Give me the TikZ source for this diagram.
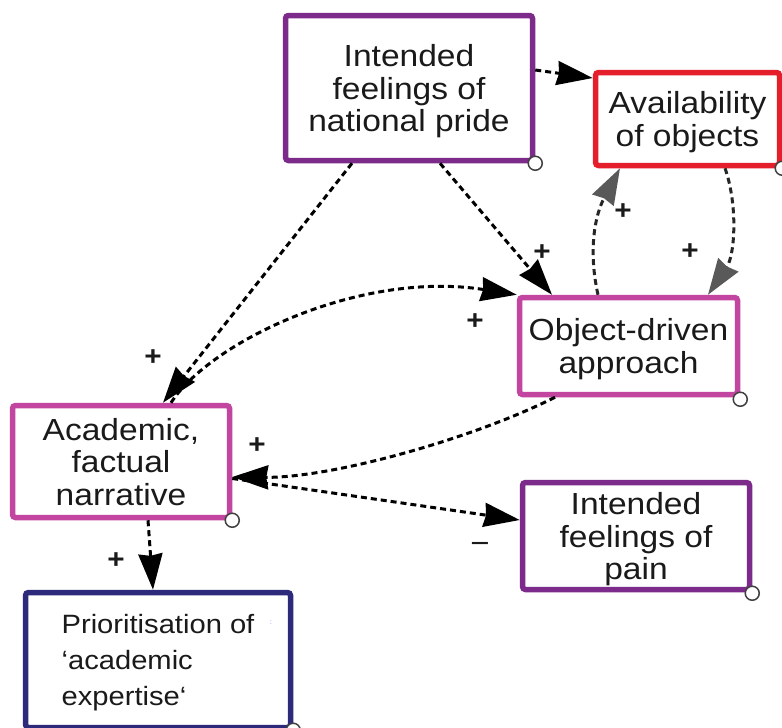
\documentclass[tikz,border=0pt]{standalone}
\usepackage{fontspec}
\setmainfont{Liberation Sans}[FakeStretch=1.1]
\usetikzlibrary{arrows.meta}
\definecolor{deeppurple}{HTML}{7D2B8B}
\definecolor{pinkpurple}{HTML}{C2459F}
\definecolor{boxred}{HTML}{E41E2B}
\definecolor{boxnavy}{HTML}{2D2A7C}
\definecolor{inktext}{HTML}{1A1A1A}
\begin{document}
\begin{tikzpicture}[x=1pt,y=-1pt,
  box/.style={draw, line width=5.5pt, rounded corners=3pt, fill=white, inner sep=0pt,
    text depth=0pt, align=center, text=inktext, font=\fontsize{30.5}{32.5}\selectfont},
  port/.style={circle, draw=black!75, fill=white, line width=1.5pt, minimum size=14pt, inner sep=0pt},
  link/.style={line width=3pt, dash pattern=on 6pt off 4pt,
    -{Stealth[length=36pt,width=24pt,inset=2pt]}},
  greylink/.style={line width=3pt, dash pattern=on 6pt off 4pt, draw=black!85,
    -{Stealth[length=36pt,width=24pt,inset=2pt,color=black!65]}},
  sign/.style={font=\bfseries\fontsize{27}{27}\selectfont, inner sep=0pt, text=inktext},
  minussign/.style={font=\fontsize{30}{30}\selectfont, inner sep=0pt, text=inktext}
]
\useasboundingbox (0,0) rectangle (782,728);
\clip (0,0) rectangle (782,728);
\fill[white] (0,0) rectangle (782,728);

% factor boxes
\node[box, draw=deeppurple, minimum width=247pt, minimum height=145pt] (pride) at (409,88)
  {Intended\\feelings of\\national pride};
\node[box, draw=boxred, minimum width=184pt, minimum height=93pt] (avail) at (687.5,119)
  {Availability\\of objects};
\node[box, draw=pinkpurple, minimum width=218pt, minimum height=97pt] (obj) at (628.5,346)
  {Object-driven\\approach};
\node[box, draw=pinkpurple, minimum width=217pt, minimum height=112pt] (acad) at (121,461.5)
  {Academic,\\factual\\narrative};
\node[box, draw=deeppurple, minimum width=227pt, minimum height=107pt] (pain) at (636,536)
  {Intended\\feelings of\\pain};
\node[box, draw=boxnavy, minimum width=265pt, minimum height=135pt, align=left,
  font=\fontsize{26.5}{36}\selectfont] (prior) at (158,660)
  {Prioritisation of\\‘academic\\expertise‘};
\node[font=\fontsize{7}{7}\selectfont, text=blue!45, inner sep=0pt] (dotmark) at (271,623) {:};

% causal links
\draw[link] ([yshift=18pt]pride.east) -- ([yshift=41pt]avail.west);
\draw[link] ([xshift=-57pt]pride.south) -- ([xshift=42pt]acad.north);
\draw[link] ([xshift=31pt]pride.south) -- ([xshift=-76.5pt]obj.north);
\draw[link] ([xshift=50pt]acad.north) .. controls (210,342) and (360,270) .. (obj.north west);
\draw[greylink] ([xshift=-30.5pt]obj.north) .. controls (588,250) and (595,215) .. ([xshift=-67.5pt]avail.south);
\draw[greylink] ([xshift=37.5pt]avail.south) .. controls (738,205) and (735,255) .. ([xshift=79.5pt]obj.north);
\draw[link] ([xshift=-73.5pt]obj.south) .. controls (470,440) and (330,478) .. ([yshift=-15.5pt]acad.east);
\draw[link] ([yshift=-17pt]acad.east) -- ([yshift=16pt]pain.west);
\draw[link] ([xshift=27pt]acad.south) -- ([xshift=-5pt]prior.north);

% polarity signs
\node[sign] (s1) at (153,358) {+};
\node[sign] (s2) at (542,253) {+};
\node[sign] (s3) at (475,322) {+};
\node[sign] (s4) at (623,212) {+};
\node[sign] (s5) at (690,252) {+};
\node[sign] (s6) at (257,446) {+};
\node[minussign] (s7) at (480,548) {−};
\node[sign] (s8) at (116,561) {+};

% corner handles
\node[port] (hpride) at (pride.south east) {};
\node[port] (havail) at (avail.south east) {};
\node[port] (hobj) at ([yshift=-2pt]obj.south east) {};
\node[port] (hacad) at (acad.south east) {};
\node[port] (hpain) at ([yshift=-1pt]pain.south east) {};
\node[port] (hprior) at (prior.south east) {};
\end{tikzpicture}
\end{document}
